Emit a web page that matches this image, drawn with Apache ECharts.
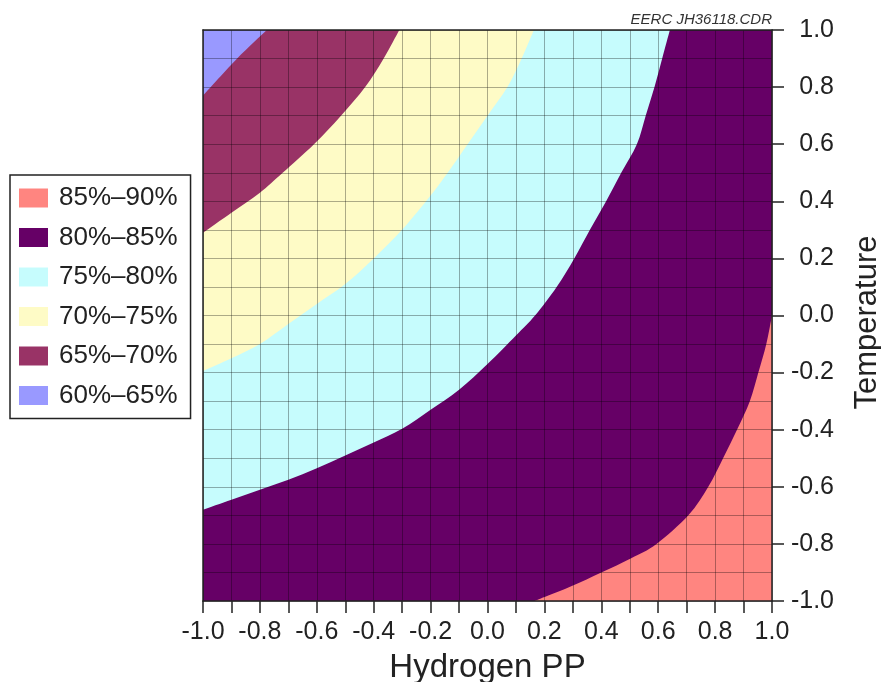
<!DOCTYPE html>
<html>
<head>
<meta charset="utf-8">
<title>Hydrogen PP vs Temperature</title>
<script src="https://cdn.jsdelivr.net/npm/echarts@6/dist/echarts.min.js"></script>
<style>
  html, body { margin: 0; padding: 0; background: #fff; }
  #chart { width: 881px; height: 682px; }
</style>
</head>
<body>
<div id="chart"></div>
<script>
// legend labels, top to bottom
const bandNames = ["85%–90%", "80%–85%", "75%–80%", "70%–75%", "65%–70%", "60%–65%"];

// contour edges, [Hydrogen PP, Temperature]
const edge60_65 = [[-1.0, 0.77], [-0.88, 0.9], [-0.776, 1.0]];
const edge65_70 = [[-1.0, 0.29], [-0.9, 0.36], [-0.8, 0.43], [-0.72, 0.5], [-0.61, 0.6],
  [-0.515, 0.7], [-0.43, 0.8], [-0.365, 0.9], [-0.31, 1.0]];
const edge70_75 = [[-1.0, -0.195], [-0.9, -0.15], [-0.8, -0.1], [-0.7, -0.03], [-0.6, 0.04],
  [-0.5, 0.11], [-0.4, 0.2], [-0.3, 0.3], [-0.2, 0.42], [-0.14, 0.5], [-0.07, 0.6],
  [0.0, 0.7], [0.07, 0.8], [0.12, 0.9], [0.163, 1.0]];
const edge75_80 = [[-1.0, -0.68], [-0.9, -0.645], [-0.8, -0.61], [-0.7, -0.575], [-0.6, -0.535],
  [-0.5, -0.49], [-0.4, -0.445], [-0.3, -0.397], [-0.2, -0.33], [-0.1, -0.26], [0.0, -0.17],
  [0.1, -0.07], [0.167, 0.0], [0.243, 0.1], [0.305, 0.2], [0.36, 0.3], [0.417, 0.4],
  [0.47, 0.5], [0.525, 0.6], [0.556, 0.7], [0.587, 0.8], [0.614, 0.9], [0.641, 1.0]];
const edge80_85 = [[0.165, -1.0], [0.29, -0.95], [0.4, -0.9], [0.505, -0.85], [0.594, -0.8],
  [0.706, -0.7], [0.776, -0.6], [0.828, -0.5], [0.877, -0.4], [0.922, -0.3], [0.952, -0.2],
  [0.98, -0.1], [1.0, 0.0]];

const plotCorners = [[-1, -1], [1, -1], [1, 1], [-1, 1]];
const topLeft = [[-1, 1]];
const bottomRight = [[1, -1]];

const bandColors = {
  "85%–90%": "#ff8580",
  "80%–85%": "#660066",
  "75%–80%": "#c6fcfd",
  "70%–75%": "#fefbc6",
  "65%–70%": "#993366",
  "60%–65%": "#9999ff",
};

const fontFamily = "'Liberation Sans', Arial, sans-serif";
const gridColor = "rgba(0,0,0,0.32)";
const inkColor = "#222";

// SVG path: smooth curve through the edge points, then straight to the corners
function bandPath(edgePx, cornerPx, smooth) {
  const e = edgePx;
  let d = "M" + e[0][0] + "," + e[0][1];
  for (let i = 0; i < e.length - 1; i++) {
    const p0 = e[i - 1] || e[i];
    const p1 = e[i];
    const p2 = e[i + 1];
    const p3 = e[i + 2] || e[i + 1];
    if (!smooth) {
      d += " L" + p2[0] + "," + p2[1];
      continue;
    }
    const c1 = [p1[0] + (p2[0] - p0[0]) / 6, p1[1] + (p2[1] - p0[1]) / 6];
    const c2 = [p2[0] - (p3[0] - p1[0]) / 6, p2[1] - (p3[1] - p1[1]) / 6];
    d += " C" + c1[0] + "," + c1[1] + " " + c2[0] + "," + c2[1] + " " + p2[0] + "," + p2[1];
  }
  cornerPx.forEach((c) => { d += " L" + c[0] + "," + c[1]; });
  return d + " Z";
}

// one filled region per band, painted bottom-right first
const region = (name, edge, corners, smooth) => ({
  type: "custom",
  name: name,
  coordinateSystem: "cartesian2d",
  xAxisIndex: 0,
  yAxisIndex: 0,
  silent: true,
  animation: false,
  clip: true,
  itemStyle: { color: bandColors[name] },
  encode: { x: 0, y: 1 },
  data: edge,
  renderItem: (params, api) => {
    if (params.dataIndex !== 0) return;
    const d = bandPath(edge.map((p) => api.coord(p)), corners.map((p) => api.coord(p)), smooth);
    return {
      type: "path",
      shape: { pathData: d },
      style: { fill: bandColors[name] },
    };
  },
});

const chart = echarts.init(document.getElementById("chart"));

const xLabel = (v) => {
  const k = Math.round(v * 10);
  return k % 2 === 0 ? (k / 10).toFixed(1) : "";
};

const option = {
  backgroundColor: "#fff",
  animation: false,
  textStyle: { fontFamily: fontFamily },
  title: {
    text: "EERC JH36118.CDR",
    right: 104,
    top: 7,
    textStyle: { fontSize: 15, fontStyle: "italic", fontWeight: "normal", color: "#333", fontFamily: fontFamily },
  },
  legend: {
    orient: "vertical",
    left: 10,
    top: 175,
    data: bandNames,
    selectedMode: false,
    icon: "rect",
    itemWidth: 29,
    itemHeight: 19,
    itemGap: 13.5,
    padding: [10, 13, 10, 9],
    borderColor: inkColor,
    borderWidth: 1.5,
    textStyle: { fontSize: 26, color: inkColor, fontFamily: fontFamily, padding: [0, 0, 0, 6] },
  },
  grid: { left: 203, right: 109, top: 30, bottom: 81, outerBoundsMode: "none" },
  xAxis: [
    {
      type: "value",
      min: -1,
      max: 1,
      interval: 0.1,
      position: "bottom",
      z: 3,
      name: "Hydrogen PP",
      nameLocation: "middle",
      nameGap: 50,
      nameTextStyle: { fontSize: 33, color: inkColor, fontFamily: fontFamily },
      axisLine: { onZero: false, lineStyle: { color: inkColor, width: 1.5 } },
      axisTick: { length: 12, lineStyle: { color: inkColor, width: 1.5 } },
      axisLabel: { fontSize: 25, color: inkColor, margin: 19, formatter: xLabel },
      splitLine: { show: true, lineStyle: { color: gridColor, width: 1 } },
    },
    {
      type: "value",
      min: -1,
      max: 1,
      position: "top",
      z: 3,
      axisLine: { onZero: false, lineStyle: { color: inkColor, width: 1.5 } },
      axisTick: { show: false },
      axisLabel: { show: false },
      splitLine: { show: false },
    },
  ],
  yAxis: [
    {
      type: "value",
      min: -1,
      max: 1,
      interval: 0.2,
      position: "right",
      z: 3,
      name: "Temperature",
      nameLocation: "middle",
      nameRotate: 90,
      nameGap: 80,
      nameTextStyle: { fontSize: 31, color: inkColor, fontFamily: fontFamily, padding: [0, 14, 0, 0] },
      axisLine: { onZero: false, lineStyle: { color: inkColor, width: 1.5 } },
      axisTick: { length: 12, lineStyle: { color: inkColor, width: 1.5 } },
      axisLabel: { fontSize: 25, color: inkColor, margin: 62, align: "right", formatter: (v) => v.toFixed(1) },
      splitLine: { show: false },
    },
    {
      type: "value",
      min: -1,
      max: 1,
      interval: 0.1,
      position: "left",
      z: 3,
      axisLine: { onZero: false, lineStyle: { color: inkColor, width: 1.5 } },
      axisTick: { show: false },
      axisLabel: { show: false },
      splitLine: { show: true, lineStyle: { color: gridColor, width: 1 } },
    },
  ],
  series: [
    region("80%–85%", plotCorners, [], false),
    region("85%–90%", edge80_85, bottomRight, true),
    region("75%–80%", edge75_80, topLeft, true),
    region("70%–75%", edge70_75, topLeft, true),
    region("65%–70%", edge65_70, topLeft, true),
    region("60%–65%", edge60_65, topLeft, true),
  ],
};

chart.setOption(option);
</script>
</body>
</html>
